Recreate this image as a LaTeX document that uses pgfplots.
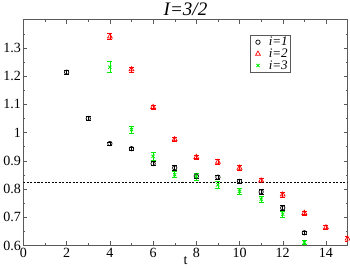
\documentclass[border=0pt]{standalone}
\usepackage{pgfplots}
\pgfplotsset{compat=1.18}
\usepackage{fontspec}
\setmainfont{Liberation Serif}
\definecolor{ggreen}{RGB}{0,235,0}
\begin{document}
\begin{tikzpicture}
\begin{axis}[
  scale only axis, width=323pt, height=225pt,
  xmin=0, xmax=15, ymin=0.6, ymax=1.4,
  xtick={0,2,...,14}, minor xtick={1,3,...,15},
  ytick={0.6,0.7,...,1.31}, minor ytick={0.65,0.75,...,1.36},
  yticklabels={0.6,0.7,0.8,0.9,1,1.1,1.2,1.3},
  /pgf/number format/assume math mode=true,
  tick label style={font=\fontsize{14}{15}\selectfont},
  xticklabel style={yshift=1pt},
  yticklabel style={xshift=1pt},
  xlabel={t}, xlabel style={font=\fontsize{14}{15}\selectfont, yshift=8pt},
  title={\textit{I=3/2}}, title style={yshift=-6pt, font=\fontsize{19}{20}\selectfont},
  tick align=inside, major tick length=4pt, minor tick length=2pt,
  axis line style={gray!70!black, line width=0.8pt},
  every tick/.style={gray!70!black},
  legend image code/.code={\path (0pt,0pt) (15pt,0pt); \draw[#1] plot coordinates {(5pt,0pt)};},
  legend style={at={(0.70,0.933)}, anchor=north west, draw=gray!70!black, line width=0.6pt,
    font=\fontsize{13}{13}\selectfont\itshape, row sep=0.5pt, inner xsep=2pt, inner ysep=1.5pt,
    nodes={inner sep=0.5pt}},
  legend cell align=left,
  error bars/error bar style={line width=0.6pt},
  error bars/error mark options={rotate=90, mark size=2.5pt, line width=0.6pt},
]
\addplot[only marks, black, mark=o, mark size=2.2pt, mark options={line width=0.7pt},
  error bars/.cd, y dir=both, y explicit] coordinates {
(2,1.214) +- (0,0.006)
(3,1.050) +- (0,0.006)
(4,0.961) +- (0,0.006)
(5,0.943) +- (0,0.006)
(6,0.890) +- (0,0.007)
(7,0.875) +- (0,0.008)
(8,0.846) +- (0,0.008)
(9,0.842) +- (0,0.008)
(10,0.827) +- (0,0.007)
(11,0.790) +- (0,0.008)
(12,0.733) +- (0,0.010)
(13,0.645) +- (0,0.007)
};
\addlegendentry{i=1}
\addplot[only marks, red, mark=triangle, mark size=2.8pt, mark options={line width=0.7pt},
  error bars/.cd, y dir=both, y explicit] coordinates {
(4,1.340) +- (0,0.011)
(5,1.224) +- (0,0.009)
(6,1.090) +- (0,0.008)
(7,0.976) +- (0,0.008)
(8,0.913) +- (0,0.008)
(9,0.896) +- (0,0.008)
(10,0.875) +- (0,0.008)
(11,0.830) +- (0,0.007)
(12,0.780) +- (0,0.008)
(13,0.715) +- (0,0.007)
(14,0.664) +- (0,0.006)
(15,0.624) +- (0,0.008)
};
\addlegendentry{i=2}
\addplot[only marks, ggreen, mark=x, mark size=2.2pt, mark options={line width=0.8pt},
  error bars/.cd, y dir=both, y explicit] coordinates {
(4,1.232) +- (0,0.019)
(5,1.011) +- (0,0.013)
(6,0.916) +- (0,0.013)
(7,0.851) +- (0,0.011)
(8,0.844) +- (0,0.012)
(9,0.815) +- (0,0.011)
(10,0.792) +- (0,0.010)
(11,0.764) +- (0,0.011)
(12,0.711) +- (0,0.010)
(13,0.611) +- (0,0.007)
};
\addlegendentry{i=3}
\addplot[black, dash pattern=on 2pt off 1.5pt, line width=0.4pt, forget plot] coordinates {(0,0.825) (15,0.825)};
\end{axis}
\end{tikzpicture}
\end{document}
